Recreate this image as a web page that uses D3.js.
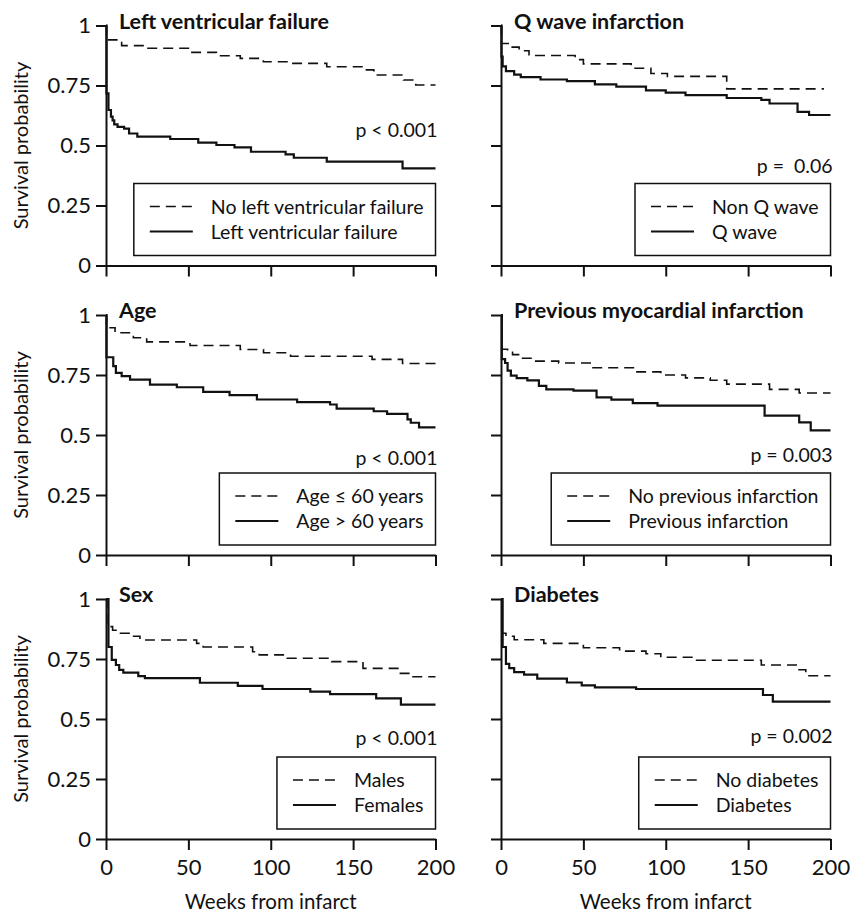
<!DOCTYPE html>
<html lang="en">
<head>
<meta charset="UTF-8">
<title>Survival curves</title>
<script src="https://cdn.jsdelivr.net/npm/d3@7"></script>
<style>
  body { margin: 0; background: #fff; }
  svg { display: block; }
  text { font-family: Lato, "Open Sans", sans-serif; fill: #111; }
  .domain, .tick line { stroke: #111; stroke-width: 2px; }
</style>
</head>
<body>
<svg id="chart"></svg>
<script>
// ticks
var weekTicks = [0, 50, 100, 150, 200];
var survTicks = [0, 0.25, 0.5, 0.75, 1];

// panel texts
var titles = ["Left ventricular failure", "Q wave infarction", "Age",
  "Previous myocardial infarction", "Sex", "Diabetes"];
var pLabels = ["p < 0.001", "p =  0.06", "p < 0.001", "p = 0.003", "p < 0.001", "p = 0.002"];
var dashedLabels = ["No left ventricular failure", "Non Q wave", "Age \u2264 60 years",
  "No previous infarction", "Males", "No diabetes"];
var solidLabels = ["Left ventricular failure", "Q wave", "Age > 60 years",
  "Previous infarction", "Females", "Diabetes"];

// [week, survival] steps
var noLvf = [[0,1],[0.3,0.94],[9.5,0.916],[25,0.905],[51,0.888],[67,0.874],[81.5,0.863],[95.5,0.849],
  [112,0.842],[134,0.828],[157.5,0.815],[162.6,0.794],[180.6,0.773],[188,0.752],[200,0.752]];
var lvf = [[0,1],[0.3,0.717],[1.5,0.648],[3,0.62],[4,0.605],[5,0.588],[7,0.578],[11,0.57],[14,0.55],
  [19,0.537],[39,0.527],[56,0.512],[67,0.502],[78,0.492],[88,0.474],[109,0.463],[114,0.449],
  [134,0.433],[180,0.405],[200,0.405]];

var nonQ = [[0,1],[0.3,0.925],[5,0.91],[11,0.895],[17,0.875],[45,0.858],[50,0.84],[79,0.822],
  [91,0.80],[101,0.788],[137,0.736],[196,0.736]];
var qWave = [[0,1],[0.3,0.87],[1,0.83],[3,0.81],[8,0.795],[12,0.785],[24,0.775],[40,0.768],
  [57,0.755],[70,0.745],[88,0.73],[100,0.72],[112,0.71],[137,0.698],[158,0.69],[163,0.675],
  [180,0.64],[187,0.627],[200,0.627]];

var ageLow = [[0,1],[0.3,0.947],[5.5,0.926],[16.6,0.905],[24.7,0.888],[51,0.873],[81.5,0.856],
  [95.6,0.843],[112,0.828],[161.5,0.815],[180,0.798],[200,0.798]];
var ageHigh = [[0,1],[0.3,0.824],[4.4,0.787],[6,0.759],[9.5,0.745],[14.6,0.731],[26.7,0.71],
  [43,0.699],[59,0.68],[75,0.666],[91.6,0.648],[116,0.637],[136,0.627],[140,0.61],[162.5,0.599],
  [170.6,0.588],[183,0.565],[185,0.551],[190,0.532],[200,0.532]];

var noPrevMi = [[0,1],[0.5,0.857],[4,0.845],[7,0.835],[11.5,0.82],[19,0.808],[35,0.8],[55,0.78],
  [82,0.763],[97,0.75],[112,0.738],[127,0.728],[137,0.712],[163,0.69],[181,0.675],[200,0.675]];
var prevMi = [[0,1],[0.5,0.816],[2.5,0.80],[4,0.768],[6,0.747],[9.5,0.737],[16,0.728],[23,0.705],
  [27.5,0.69],[44,0.685],[58,0.657],[67,0.647],[80,0.633],[95,0.622],[160,0.581],[181,0.553],
  [188,0.519],[200,0.519]];

var males = [[0,1],[0.5,0.885],[4,0.87],[7.5,0.857],[14,0.845],[20.6,0.829],[55,0.815],[59,0.8],
  [89,0.78],[93,0.767],[110,0.753],[137,0.739],[156,0.711],[178,0.69],[185,0.676],[200,0.676]];
var females = [[0,1],[1.5,0.8],[3.5,0.746],[6,0.725],[8,0.705],[10.5,0.693],[19.6,0.679],
  [23.6,0.67],[57,0.651],[80,0.638],[95,0.625],[124,0.614],[136,0.604],[164,0.586],[179,0.56],
  [200,0.56]];

var noDiab = [[0,1],[0.5,0.857],[3,0.845],[8,0.83],[26,0.815],[50,0.797],[72,0.783],[88,0.772],
  [97,0.757],[117,0.745],[158,0.725],[180,0.705],[185,0.68],[200,0.68]];
var diab = [[0,1],[1,0.80],[3,0.73],[5,0.712],[8,0.695],[14,0.685],[22,0.668],[40,0.652],
  [49,0.64],[57,0.632],[82,0.625],[159,0.60],[165,0.572],[200,0.572]];

var dashedSeries = [noLvf, nonQ, ageLow, noPrevMi, males, noDiab];
var solidSeries = [lvf, qWave, ageHigh, prevMi, females, diab];
// height of the p value above the axis, in survival units
var pHeights = [0.535, 0.385, 0.376, 0.386, 0.392, 0.40];

var width = 851, height = 913;
var colLeft = [106, 501], plotW = 329.5;
var rowTop = [25.5, 315, 599], plotH = 240;

var svg = d3.select("#chart").attr("width", width).attr("height", height);

var x = d3.scaleLinear().domain([0, 200]).range([0, plotW]);
var y = d3.scaleLinear().domain([0, 1]).range([plotH, 0]);
var line = d3.line().x(d => x(d[0])).y(d => y(d[1])).curve(d3.curveStepAfter);

titles.forEach(function (title, i) {
  var col = i % 2, row = Math.floor(i / 2);
  var g = svg.append("g").attr("transform", "translate(" + colLeft[col] + "," + rowTop[row] + ")");

  // axes
  var yAxis = d3.axisLeft(y).tickValues(survTicks).tickSize(10).tickSizeOuter(0).tickPadding(5)
    .tickFormat(col == 0 ? d => String(d) : "");
  g.append("g").call(yAxis).selectAll("text").style("font-size", "22px").attr("font-family", null);

  var xAxis = d3.axisBottom(x).tickValues(weekTicks).tickSize(11).tickSizeOuter(0).tickPadding(9)
    .tickFormat(row == 2 ? d => String(d) : "");
  g.append("g").attr("transform", "translate(0," + plotH + ")").call(xAxis)
    .selectAll("text").style("font-size", "22px").attr("font-family", null);
  g.selectAll(".domain").attr("stroke", "#111");

  // curves
  g.append("path").datum(dashedSeries[i]).attr("d", line)
    .attr("fill", "none").attr("stroke", "#111").attr("stroke-width", 1.6)
    .attr("stroke-dasharray", "10,6");
  g.append("path").datum(solidSeries[i]).attr("d", line)
    .attr("fill", "none").attr("stroke", "#111").attr("stroke-width", 2.2);

  // title
  g.append("text").attr("x", 13).attr("y", 3)
    .style("font-size", "21.5px").style("font-weight", "bold").text(title);

  // p value
  g.append("text").attr("x", x(200) + 2).attr("y", y(pHeights[i]))
    .attr("text-anchor", "end").style("font-size", "19.5px").style("white-space", "pre")
    .text(pLabels[i]);

  // legend
  var leg = g.append("g");
  var boxBottom = plotH - 10, boxH = 72, boxTop = boxBottom - boxH;
  var box = leg.append("rect");
  var t1 = leg.append("text").attr("y", boxTop + 30).style("font-size", "19.5px").text(dashedLabels[i]);
  var t2 = leg.append("text").attr("y", boxTop + 55).style("font-size", "19.5px").text(solidLabels[i]);
  var tw = Math.max(t1.node().getComputedTextLength(), t2.node().getComputedTextLength());
  var boxW = 16 + 43 + 18 + tw + 12;
  var bx = x(200) - boxW;
  box.attr("x", bx).attr("y", boxTop).attr("width", boxW).attr("height", boxH)
    .attr("fill", "none").attr("stroke", "#111").attr("stroke-width", 1.5);
  t1.attr("x", bx + 16 + 43 + 18);
  t2.attr("x", bx + 16 + 43 + 18);
  leg.append("line").attr("x1", bx + 16).attr("x2", bx + 59).attr("y1", boxTop + 23).attr("y2", boxTop + 23)
    .attr("stroke", "#111").attr("stroke-width", 1.6).attr("stroke-dasharray", "10,6");
  leg.append("line").attr("x1", bx + 16).attr("x2", bx + 59).attr("y1", boxTop + 48).attr("y2", boxTop + 48)
    .attr("stroke", "#111").attr("stroke-width", 2.2);

  // axis titles
  if (col == 0) {
    g.append("text").attr("transform", "translate(" + (28 - colLeft[0]) + "," + (plotH / 2) + ") rotate(-90)")
      .attr("text-anchor", "middle").style("font-size", "20px").text("Survival probability");
  }
  if (row == 2) {
    g.append("text").attr("x", plotW / 2).attr("y", 909 - rowTop[2])
      .attr("text-anchor", "middle").style("font-size", "20.5px").text("Weeks from infarct");
  }
});
</script>
</body>
</html>
